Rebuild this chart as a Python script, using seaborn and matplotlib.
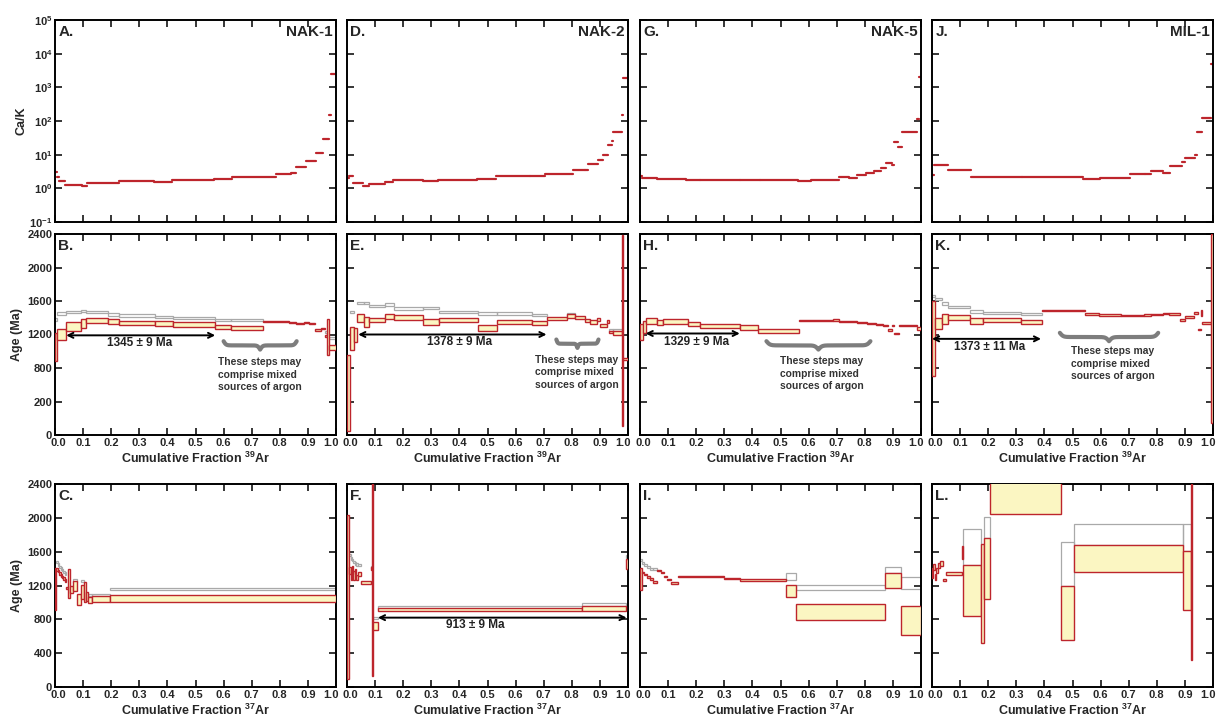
import numpy as np
import pandas as pd
import matplotlib
matplotlib.use('Agg')
import matplotlib.pyplot as plt
import matplotlib.transforms as mtrans
import seaborn as sns

nan = np.nan

# ---------------- data ----------------
samples = ['NAK-1', 'NAK-2', 'NAK-5', 'MIL-1']
letters = [['A.', 'D.', 'G.', 'J.'], ['B.', 'E.', 'H.', 'K.'], ['C.', 'F.', 'I.', 'L.']]

# Ca/K spectra (cumulative fraction 39Ar)
nak1_cak_edges = [0, 0.006, 0.015, 0.036, 0.095, 0.113, 0.226, 0.351, 0.417, 0.565, 0.631, 0.786, 0.839,
                  0.857, 0.893, 0.929, 0.952, 0.976, 0.982, 1.0]
nak1_cak = [3.0, 2.1, 1.6, 1.25, 1.15, 1.45, 1.65, 1.5, 1.75, 1.85, 2.1, 2.7, 2.9, 4.2, 6.5, 11.5, 30, 150, 2500]

nak2_cak_edges = [0, 0.008, 0.023, 0.058, 0.079, 0.135, 0.165, 0.272, 0.325, 0.461, 0.529, 0.651, 0.705,
                  0.805, 0.847, 0.859, 0.894, 0.912, 0.93, 0.942, 0.948, 0.977, 0.983, 1.0]
nak2_cak = [2.0, 2.35, 1.47, 1.2, 1.37, 1.53, 1.72, 1.6, 1.8, 1.88, 2.3, 2.25, 2.6, 3.4, 3.6, 5.3, 6.8, 10,
            20, 26, 48, 150, 1900]

nak5_cak_edges = [0, 0.006, 0.059, 0.165, 0.213, 0.355, 0.426, 0.561, 0.608, 0.709, 0.745, 0.771, 0.804,
                  0.833, 0.856, 0.875, 0.898, 0.904, 0.919, 0.931, 0.985, 0.993, 1.0]
nak5_cak = [2.35, 2.06, 1.93, 1.76, 1.8, 1.76, 1.72, 1.64, 1.76, 2.15, 2.0, 2.5, 2.8, 3.3, 3.9, 5.7, 5.0,
            23.5, 16.7, 48, 115, 2000]

mil1_cak_edges = [0, 0.007, 0.058, 0.138, 0.319, 0.539, 0.598, 0.705, 0.758, 0.781, 0.823, 0.847, 0.888,
                  0.902, 0.935, 0.944, 0.962, 0.994, 1.0]
mil1_cak = [2.5, 4.9, 3.6, 2.2, 2.1, 1.88, 2.05, 2.6, 2.7, 3.2, 2.8, 4.6, 6.2, 8.2, 10, 48, 120, 5000]

# age spectra vs cumulative fraction 39Ar (Ma, 1 sigma half-height), gray = uncorrected steps
nak1_edges = [0, 0.008, 0.038, 0.092, 0.11, 0.188, 0.226, 0.355, 0.42, 0.568, 0.627, 0.74, 0.834, 0.857,
              0.887, 0.905, 0.925, 0.945, 0.96, 0.968, 0.975, 1.0]
nak1_age = [1050, 1200, 1293, 1330, 1370, 1353, 1335, 1330, 1323, 1293, 1281, 1358, 1345, 1335, 1340, 1330,
            1255, 1270, 1180, 1170, 1045]
nak1_err = [170, 60, 53, 50, 30, 33, 24, 30, 30, 25, 25, 8, 8, 8, 8, 8, 10, 10, 10, 210, 35]
nak1_gray = [1380, 1450, 1465, 1480, 1465, 1440, 1425, 1410, 1395, 1375, 1370, nan, nan, nan, nan, nan,
             nan, nan, 1230, nan, 1160]

nak2_edges = [0, 0.011, 0.025, 0.034, 0.062, 0.08, 0.135, 0.167, 0.272, 0.329, 0.467, 0.533, 0.657, 0.711,
              0.782, 0.811, 0.847, 0.865, 0.888, 0.9, 0.924, 0.934, 0.948, 0.978, 0.983, 1.0]
nak2_age = [500, 1150, 1190, 1395, 1350, 1375, 1413, 1400, 1350, 1375, 1283, 1350, 1335, 1393, 1419, 1400,
            1370, 1350, 1380, 1308, 1355, 1230, 1215, 1250, 906]
nak2_err = [450, 140, 85, 44, 63, 24, 33, 30, 38, 24, 36, 22, 24, 14, 20, 20, 18, 20, 20, 20, 14, 16, 24,
            1140, 16]
nak2_gray = [nan, 1470, nan, 1580, 1580, 1538, 1558, 1510, 1518, 1466, 1450, 1450, 1430, nan, 1440, nan,
             nan, nan, nan, nan, nan, 1250, 1250, nan, nan]

nak5_edges = [0, 0.01, 0.021, 0.059, 0.083, 0.171, 0.213, 0.355, 0.42, 0.565, 0.686, 0.709, 0.774, 0.809,
              0.839, 0.863, 0.881, 0.898, 0.905, 0.922, 0.986, 1.0]
nak5_age = [1230, 1290, 1363, 1341, 1359, 1325, 1303, 1280, 1240, 1367, 1375, 1355, 1345, 1335, 1320, 1310,
            1255, 1310, 1215, 1305, 1270]
nak5_err = [90, 70, 36, 30, 28, 26, 28, 28, 28, 8, 8, 8, 8, 8, 8, 8, 8, 8, 8, 8, 15]
nak5_gray = [nan] * 21

mil1_edges = [0, 0.012, 0.036, 0.056, 0.135, 0.18, 0.317, 0.392, 0.543, 0.596, 0.673, 0.756, 0.78, 0.822,
              0.843, 0.884, 0.901, 0.932, 0.947, 0.959, 0.962, 0.994, 1.0]
mil1_age = [1150, 1335, 1380, 1400, 1360, 1375, 1350, 1488, 1440, 1428, 1425, 1430, 1440, 1450, 1448, 1370,
            1413, 1460, 1260, 1460, 1340, 1270]
mil1_err = [450, 64, 60, 30, 40, 24, 22, 10, 12, 12, 10, 12, 10, 10, 10, 12, 12, 12, 10, 35, 10, 1130]
mil1_gray = [1660, 1620, 1570, 1525, 1475, 1455, 1445] + [nan] * 15

# age vs cumulative fraction 37Ar
nak1_ca_edges = [0, 0.005, 0.01, 0.015, 0.02, 0.025, 0.03, 0.036, 0.04, 0.048, 0.052, 0.064, 0.08, 0.091,
                 0.103, 0.112, 0.119, 0.133, 0.196, 1.0]
nak1_ca_age = [1160, 1390, 1370, 1345, 1320, 1300, 1280, 1260, 1170, 1220, 1150, 1190, 1040, 1125, 1124,
               1070, 1028, 1040, 1048]
nak1_ca_err = [250, 15, 15, 15, 15, 15, 15, 15, 15, 170, 40, 60, 65, 85, 115, 55, 40, 30, 40]
nak1_ca_gray = [nan, 1480, 1450, 1420, 1400, 1380, 1360, 1340, nan, nan, nan, 1260, nan, 1256, nan, 1090,
                1090, 1090, 1160]
nak1_ca_gray_err = [14] * 19

nak2_ca_edges = [0, 0.008, 0.013, 0.018, 0.023, 0.028, 0.033, 0.038, 0.05, 0.084, 0.09, 0.094, 0.111,
                 0.835, 0.992, 1.0]
nak2_ca_age = [1060, 1380, 1330, 1400, 1320, 1370, 1300, 1340, 1232, 1400, 1270, 718, 916, 926, 1454]
nak2_ca_err = [970, 40, 60, 30, 50, 30, 30, 25, 16, 20, 1140, 50, 16, 30, 54]
nak2_ca_gray = [nan, 1560, 1520, 1500, 1480, 1460, 1450, 1440, nan, 1420, nan, 818, 940, 975, 1540]
nak2_ca_gray_err = [14] * 14 + [20]

nak5_ca_edges = [0, 0.006, 0.015, 0.025, 0.035, 0.045, 0.06, 0.075, 0.085, 0.095, 0.11, 0.135, 0.3, 0.355,
                 0.52, 0.555, 0.873, 0.93, 1.0]
nak5_ca_age = [1280, 1350, 1330, 1300, 1280, 1240, 1380, 1350, 1310, 1270, 1235, 1305, 1285, 1263, 1136,
               888, 1260, 786]
nak5_ca_err = [130, 8, 10, 12, 12, 15, 6, 6, 6, 6, 12, 10, 6, 13, 74, 98, 90, 176]
nak5_ca_gray = [1500, 1470, 1440, 1420, 1400, 1390, nan, nan, nan, nan, nan, nan, nan, nan, 1308, 1176,
                1384, 1232]
nak5_ca_gray_err = [12] * 14 + [40, 32, 32, 72]

mil1_ca_edges = [0, 0.005, 0.01, 0.015, 0.02, 0.03, 0.04, 0.05, 0.105, 0.11, 0.175, 0.185, 0.205, 0.46,
                 0.505, 0.895, 0.92, 0.925]
mil1_ca_age = [1350, 1420, 1300, 1380, 1440, 1460, 1260, 1342, 1588, 1144, 1104, 1400, 2240, 878, 1518,
               1262, 1360]
mil1_ca_err = [60, 40, 40, 30, 30, 30, 12, 14, 80, 304, 584, 360, 200, 318, 158, 346, 1040]
mil1_ca_gray = [nan] * 9 + [1656, nan, 1884, nan, 1456, 1802, 1768, nan]
mil1_ca_gray_err = [12] * 9 + [208, 12, 124, 12, 260, 126, 160, 12]

# plateau ages: (x start, x end, arrow age, label x, label age, text)
plateaus = [
    (0.04, 0.57, 1190, 0.30, 1100, '1345 ± 9 Ma'),
    (0.04, 0.71, 1200, 0.40, 1110, '1378 ± 9 Ma'),
    (0.02, 0.355, 1212, 0.20, 1110, '1329 ± 9 Ma'),
    (0.0, 0.388, 1148, 0.205, 1050, '1373 ± 11 Ma'),
]
nak2_ca_plateau = (0.11, 0.995, 820, 0.455, 728, '913 ± 9 Ma')

# braces: (x start, x end, top age, depth, text x, text top age)
braces = [
    (0.60, 0.86, 1120, 100, 0.58, 930),
    (0.745, 0.895, 1140, 100, 0.67, 955),
    (0.45, 0.82, 1120, 100, 0.50, 940),
    (0.455, 0.805, 1220, 100, 0.495, 1060),
]
mixed_text = 'These steps may\ncomprise mixed\nsources of argon'

cak_data = [(nak1_cak_edges, nak1_cak), (nak2_cak_edges, nak2_cak),
            (nak5_cak_edges, nak5_cak), (mil1_cak_edges, mil1_cak)]
age_data = [(nak1_edges, nak1_age, nak1_err, nak1_gray), (nak2_edges, nak2_age, nak2_err, nak2_gray),
            (nak5_edges, nak5_age, nak5_err, nak5_gray), (mil1_edges, mil1_age, mil1_err, mil1_gray)]
ca_data = [(nak1_ca_edges, nak1_ca_age, nak1_ca_err, nak1_ca_gray, nak1_ca_gray_err),
           (nak2_ca_edges, nak2_ca_age, nak2_ca_err, nak2_ca_gray, nak2_ca_gray_err),
           (nak5_ca_edges, nak5_ca_age, nak5_ca_err, nak5_ca_gray, nak5_ca_gray_err),
           (mil1_ca_edges, mil1_ca_age, mil1_ca_err, mil1_ca_gray, mil1_ca_gray_err)]

# ---------------- style ----------------
RED = '#bd252c'
YEL = '#fbf6c2'
GRAY = '#a9a9a9'

sns.set_style('ticks')
plt.rcParams['font.family'] = ['Liberation Sans', 'DejaVu Sans']
plt.rcParams['font.weight'] = 'bold'
plt.rcParams['axes.labelweight'] = 'bold'
plt.rcParams['mathtext.fontset'] = 'custom'
plt.rcParams['mathtext.rm'] = 'Liberation Sans:bold'
plt.rcParams['mathtext.bf'] = 'Liberation Sans:bold'
plt.rcParams['mathtext.it'] = 'Liberation Sans:bold:italic'
plt.rcParams['mathtext.default'] = 'rm'

fig = plt.figure(figsize=(12.21, 7.19), dpi=100)
W, H = 1221, 719
col_left = [55, 347, 640, 932]
col_w = 281
row_top = [20, 234, 484]
row_h = [202, 201, 203]


def make_ax(r, c):
    ax = fig.add_axes([col_left[c] / W, 1 - (row_top[r] + row_h[r]) / H, col_w / W, row_h[r] / H])
    for s in ax.spines.values():
        s.set_linewidth(1.4)
        s.set_color('black')
    return ax


def style_ax(ax, r, c):
    ax.set_xlim(0, 1)
    ax.set_xticks(np.arange(0, 1.01, 0.1))
    ax.set_xticklabels(['%.1f' % v for v in np.arange(0, 1.01, 0.1)])
    ax.tick_params(direction='in', top=True, right=True, length=5, width=1.3, labelsize=8, pad=2,
                   labelleft=(c == 0), labelbottom=(r > 0))
    ax.tick_params(which='minor', left=False, right=False, top=False, bottom=False)
    # nudge the end labels inward so neighbouring panels do not collide
    if r > 0:
        ticks = ax.xaxis.get_major_ticks()
        first, last = ticks[0].label1, ticks[-1].label1
        first.set_transform(first.get_transform()
                            + mtrans.ScaledTranslation(2.5 / 72, 0, fig.dpi_scale_trans))
        last.set_transform(last.get_transform()
                           + mtrans.ScaledTranslation(-3.5 / 72, 0, fig.dpi_scale_trans))
    ax.text(0.012, 0.975, letters[r][c], transform=ax.transAxes, ha='left', va='top', fontsize=11,
            fontweight='bold')


def brace(ax, x0, x1, ytop, depth):
    w = (x1 - x0) / 2
    beta = 30 / w
    xh = np.linspace(x0, x0 + w, 120)
    yh = 1 / (1 + np.exp(-beta * (xh - xh[0]))) + 1 / (1 + np.exp(-beta * (xh - xh[-1]))) - 0.5
    xs = np.concatenate([xh, x0 + 2 * w - (xh[-2::-1] - x0)])
    ys = np.concatenate([yh, yh[-2::-1]])
    ax.plot(xs, ytop - depth * ys, color='#7d7d7d', lw=3, solid_capstyle='round', zorder=4)


def age_bars(ax, edges, age, err, gray, gray_err):
    edges = np.asarray(edges, float)
    age = np.asarray(age, float)
    err = np.asarray(err, float)
    gray = np.asarray(gray, float)
    gray_err = np.asarray(gray_err, float)
    left = edges[:-1]
    width = np.diff(edges)
    m = ~np.isnan(gray)
    ax.bar(left[m], 2 * gray_err[m], width=width[m], bottom=gray[m] - gray_err[m], align='edge',
           fill=False, edgecolor=GRAY, linewidth=0.9, zorder=2)
    ax.bar(left, 2 * err, width=width, bottom=age - err, align='edge', color=YEL, edgecolor=RED,
           linewidth=1.0, zorder=3)


def plateau(ax, p):
    x0, x1, y, tx, ty, txt = p
    ax.annotate('', xy=(x1, y), xytext=(x0, y),
                arrowprops=dict(arrowstyle='<->', lw=1.4, color='black', shrinkA=0, shrinkB=0,
                                mutation_scale=9), zorder=5)
    ax.text(tx, ty, txt, ha='center', va='center', fontsize=8.5, fontweight='bold', color='#222222')


for c in range(4):
    # ---- row 1: Ca/K ----
    ax = make_ax(0, c)
    edges, vals = cak_data[c]
    rows = []
    for i, v in enumerate(vals):
        rows.append((edges[i], v, i))
        rows.append((edges[i + 1], v, i))
    df = pd.DataFrame(rows, columns=['x', 'y', 'seg'])
    sns.lineplot(data=df, x='x', y='y', units='seg', estimator=None, sort=False, color=RED, lw=1.6,
                 ax=ax, legend=False)
    ax.set_yscale('log')
    ax.set_ylim(0.1, 1e5)
    ax.set_yticks([1e-1, 1e0, 1e1, 1e2, 1e3, 1e4, 1e5])
    ax.set_yticklabels([r'$10^{-1}$', r'$10^{0}$', r'$10^{1}$', r'$10^{2}$', r'$10^{3}$', r'$10^{4}$',
                        r'$10^{5}$'])
    ax.yaxis.set_minor_locator(matplotlib.ticker.NullLocator())
    style_ax(ax, 0, c)
    ax.set_xlabel('')
    ax.set_ylabel('Ca/K' if c == 0 else '', fontsize=9, fontweight='bold', labelpad=1)
    ax.text(0.988, 0.975, samples[c], transform=ax.transAxes, ha='right', va='top', fontsize=11,
            fontweight='bold')

    # ---- row 2: age spectrum vs 39Ar ----
    ax = make_ax(1, c)
    edges, age, err, gray = age_data[c]
    age_bars(ax, edges, age, err, gray, [14] * len(age))
    ax.set_ylim(0, 2400)
    ax.set_yticks([0, 400, 800, 1200, 1600, 2000, 2400])
    ax.set_yticklabels(['0', '200', '800', '1200', '1600', '2000', '2400'])
    style_ax(ax, 1, c)
    plateau(ax, plateaus[c])
    bx0, bx1, btop, bdep, tx, ttop = braces[c]
    brace(ax, bx0, bx1, btop, bdep)
    ax.text(tx, ttop, mixed_text, ha='left', va='top', fontsize=7.4, fontweight='bold', color='#333333',
            linespacing=1.3)
    ax.set_xlabel(r'Cumulative Fraction $^{39}$Ar', fontsize=9, fontweight='bold', labelpad=2)
    ax.set_ylabel('Age (Ma)' if c == 0 else '', fontsize=9, fontweight='bold', labelpad=3)

    # ---- row 3: age vs 37Ar ----
    ax = make_ax(2, c)
    edges, age, err, gray, gerr = ca_data[c]
    age_bars(ax, edges, age, err, gray, gerr)
    ax.set_ylim(0, 2400)
    ax.set_yticks([0, 400, 800, 1200, 1600, 2000, 2400])
    style_ax(ax, 2, c)
    if c == 1:
        plateau(ax, nak2_ca_plateau)
    ax.set_xlabel(r'Cumulative Fraction $^{37}$Ar', fontsize=9, fontweight='bold', labelpad=2)
    ax.set_ylabel('Age (Ma)' if c == 0 else '', fontsize=9, fontweight='bold', labelpad=3)

fig.savefig('out.png', dpi=100)
